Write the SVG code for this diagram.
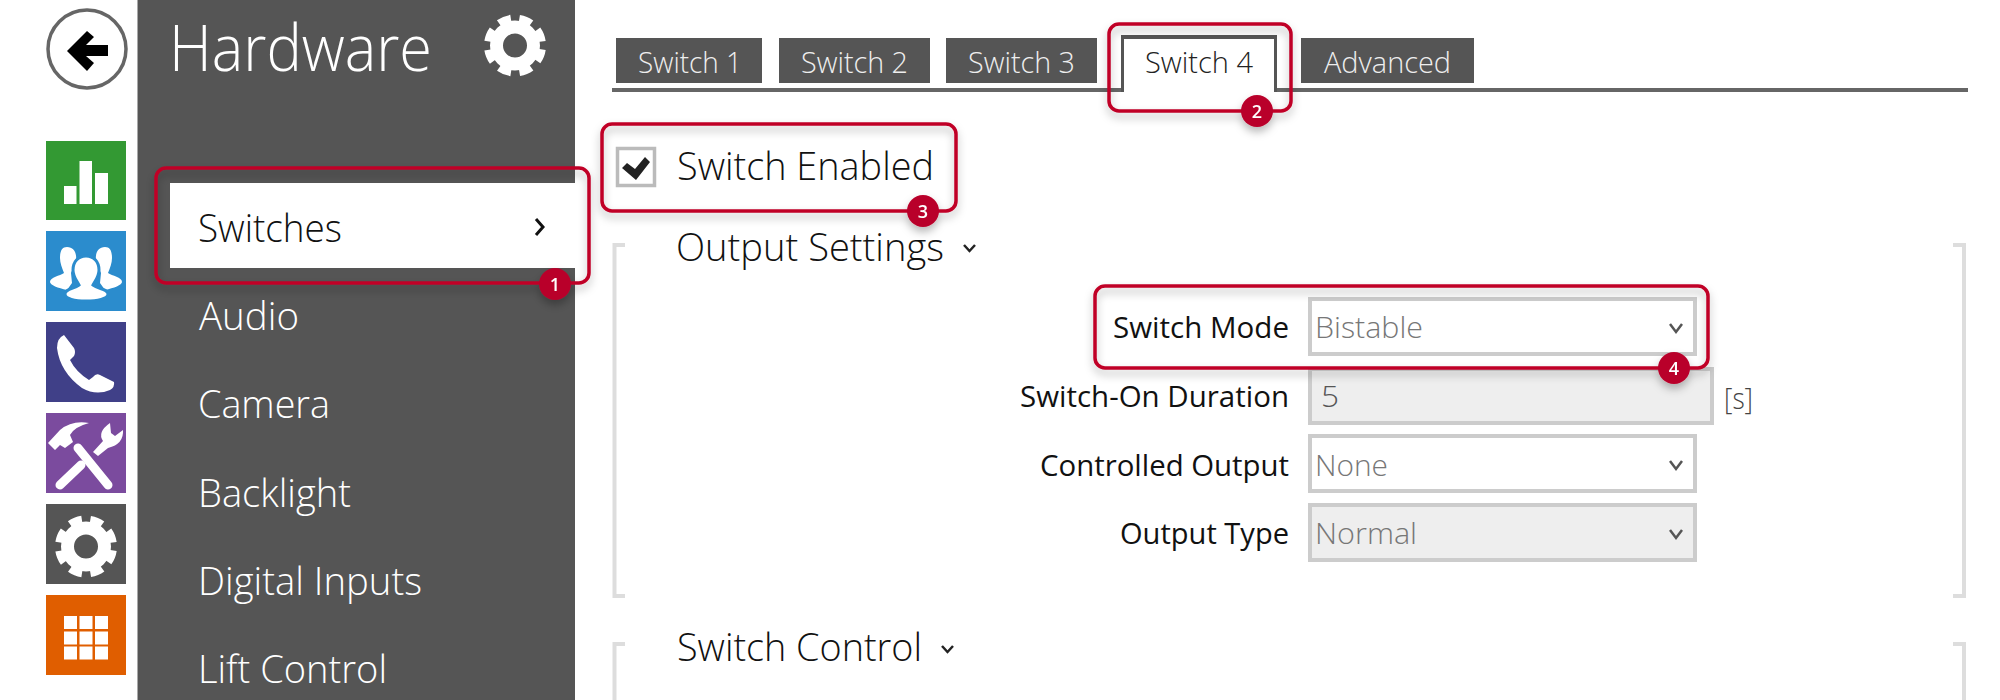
<svg xmlns="http://www.w3.org/2000/svg" xmlns:xlink="http://www.w3.org/1999/xlink" width="2000" height="700" viewBox="0 0 2000 700">
<style>
text{font-family:"Open Sans","Noto Sans","Liberation Sans",sans-serif;font-weight:300}
.menu{font-size:39px;fill:#fff}
.tab{font-size:30px;fill:#eee}
.head{font-size:39px;fill:#111}
.lab{font-size:29px;fill:#111;font-weight:400}
.val{font-size:29px;fill:#777}
.pane{fill:#555}
.tabbox{fill:#555}
.field{fill:#fff;stroke:#ccc;stroke-width:4}
.off{fill:#eee}
.chev{fill:none;stroke:#555;stroke-width:2.5}
.chevd{fill:none;stroke:#222;stroke-width:2.5}
.brk{fill:none;stroke:#ddd;stroke-width:4}
.call{fill:none;stroke:#c00027;stroke-width:3.5}
.badge{fill:#b9002b}
.num{font-size:18px;fill:#fff;font-weight:600;text-anchor:middle}
.ic{fill:#fff}
</style>
<defs>
<filter id="sh" x="-10%" y="-20%" width="120%" height="150%"><feDropShadow dx="0" dy="5" stdDeviation="4" flood-color="#000" flood-opacity="0.28"/></filter>
<g id="gear"><circle r="18.5" fill="none" stroke="#fff" stroke-width="13"/><circle r="27" fill="none" stroke="#fff" stroke-width="8" stroke-dasharray="12.5 8.7" stroke-dashoffset="-4"/></g>
</defs>
<rect width="2000" height="700" fill="#fff"/>
<g id="back"><circle cx="87" cy="49" r="39" fill="#fff" stroke="#666" stroke-width="3.5"/><polygon points="67,51 87,31 94,37 86,45 108,45 108,56 86,56 94,63 87,71" fill="#000"/></g>
<g id="tile-status"><rect x="46" y="141" width="80" height="79" fill="#339933"/><rect class="ic" x="64" y="186" width="12.5" height="18"/><rect class="ic" x="79.5" y="161" width="12.5" height="43"/><rect class="ic" x="95" y="173" width="13" height="31"/></g>
<g id="tile-users"><rect x="46" y="231" width="80" height="80" fill="#2b8ccd"/>
<path class="ic" d="M67 247C74 247 77 253 76 261C75 267 72 270 71 273L72 283L67 290C58 288 50 285 50 282C50 277 60 276 64 273C62 268 60 263 60 258C60 251 62 247 67 247Z"/>
<path class="ic" d="M105 247C98 247 95 253 96 261C97 267 100 270 101 273L100 283L105 290C114 288 122 285 122 282C122 277 112 276 108 273C110 268 112 263 112 258C112 251 110 247 105 247Z"/>
<path class="ic" stroke="#2b8ccd" stroke-width="3" d="M86 256C94 256 99 262 99 270C99 277 95 281 93 285C98 289 108 289 108 294C108 299 97 301 86 301C75 301 65 299 65 294C65 289 74 289 79 285C77 281 73 277 73 270C73 262 78 256 86 256Z"/></g>
<g id="tile-phone"><rect x="46" y="322" width="80" height="80" fill="#404088"/><path class="ic" d="M64 335Q57 338 57 348Q60 372 82 388Q96 396 110 390Q115 387 114 382L100 375Q96 373 93 377L89 380Q76 372 70 360L74 356Q76 352 74 348Z"/></g>
<g id="tile-tools"><rect x="46" y="413" width="80" height="80" fill="#7b4b9e"/>
<path class="ic" d="M48 443L55 450L60 445L65 448L73 442L70 435Q74 427 89 423Q72 420 60 430Z"/>
<path d="M78 448L108 485" stroke="#fff" stroke-width="9" stroke-linecap="round"/><path d="M60 485L81 465" stroke="#fff" stroke-width="9" stroke-linecap="round"/>
<path class="ic" d="M93 452L103 441Q97 432 110 423L111 433L115 436L123 430Q124 444 108 448L98 456Z"/></g>
<g id="tile-settings"><rect x="46" y="504" width="80" height="80" fill="#555"/><use xlink:href="#gear" href="#gear" x="86" y="546.5"/></g>
<g id="tile-apps"><rect x="46" y="595" width="80" height="80" fill="#e05e00"/>
<g class="ic"><rect x="64" y="616" width="13" height="13"/><rect x="79.5" y="616" width="13" height="13"/><rect x="95" y="616" width="13" height="13"/><rect x="64" y="631.5" width="13" height="13"/><rect x="79.5" y="631.5" width="13" height="13"/><rect x="95" y="631.5" width="13" height="13"/><rect x="64" y="646.5" width="13" height="13"/><rect x="79.5" y="646.5" width="13" height="13"/><rect x="95" y="646.5" width="13" height="13"/></g></g>
<g id="menu-pane"><rect class="pane" x="137.5" width="437.5" height="700"/>
<text x="169" y="71" style="font-size:64px;fill:#fff" textLength="263" lengthAdjust="spacingAndGlyphs">Hardware</text>
<use xlink:href="#gear" href="#gear" x="515" y="45.5"/>
<rect x="170" y="183" width="405" height="85" fill="#fff"/>
<text class="menu" x="198" y="242" textLength="144" lengthAdjust="spacingAndGlyphs" style="fill:#111">Switches</text>
<path d="M536 219L543 227L536 235" fill="none" stroke="#111" stroke-width="3"/>
<text class="menu" x="199" y="330" textLength="100" lengthAdjust="spacingAndGlyphs">Audio</text>
<text class="menu" x="198" y="418" textLength="132" lengthAdjust="spacingAndGlyphs">Camera</text>
<text class="menu" x="198" y="507" textLength="153" lengthAdjust="spacingAndGlyphs">Backlight</text>
<text class="menu" x="198" y="595" textLength="224" lengthAdjust="spacingAndGlyphs">Digital Inputs</text>
<text class="menu" x="198" y="683" textLength="189" lengthAdjust="spacingAndGlyphs">Lift Control</text></g>
<g id="tabs">
<rect x="612" y="88" width="1356" height="4" fill="#666"/>
<g id="tab1"><rect class="tabbox" x="616" y="38" width="146" height="45"/><text class="tab" x="638" y="73" textLength="104" lengthAdjust="spacingAndGlyphs">Switch 1</text></g>
<g id="tab2"><rect class="tabbox" x="779" y="38" width="151" height="45"/><text class="tab" x="801" y="73" textLength="107" lengthAdjust="spacingAndGlyphs">Switch 2</text></g>
<g id="tab3"><rect class="tabbox" x="946" y="38" width="151" height="45"/><text class="tab" x="968" y="73" textLength="107" lengthAdjust="spacingAndGlyphs">Switch 3</text></g>
<g id="tab4"><path d="M1122.500 92V37H1275.500V92" fill="#fff" stroke="#555" stroke-width="3"/><rect x="1121" y="35" width="156" height="4" fill="#555"/><rect x="1124" y="86" width="150" height="8" fill="#fff"/><text class="tab" x="1145" y="73" textLength="108" lengthAdjust="spacingAndGlyphs" style="fill:#222">Switch 4</text></g>
<g id="tab5"><rect class="tabbox" x="1301" y="38" width="173" height="45"/><text class="tab" x="1324" y="73" textLength="127" lengthAdjust="spacingAndGlyphs">Advanced</text></g>
</g>
<g id="enable"><rect x="617.500" y="148.500" width="37" height="37" fill="#fff" stroke="#bbb" stroke-width="3.500"/><polygon points="622,168 627,163 635,169 645,157 650,162 636,180" fill="#222"/>
<text class="head" x="677" y="179.500" textLength="257" lengthAdjust="spacingAndGlyphs">Switch Enabled</text></g>
<g id="output-settings"><text class="head" x="676" y="261" textLength="268" lengthAdjust="spacingAndGlyphs">Output Settings</text><path class="chevd" d="M964 245L969.500 251L975 245"/>
<path class="brk" d="M625 245H614.500V596H625M1953 245H1964V596H1953"/>
<text class="lab" x="1289" y="338" text-anchor="end" textLength="176" lengthAdjust="spacingAndGlyphs">Switch Mode</text>
<g id="f-mode"><rect class="field" x="1310" y="299" width="385" height="55"/><text class="val" x="1315" y="338" textLength="108" lengthAdjust="spacingAndGlyphs">Bistable</text><path class="chev" d="M1670 324L1676 332L1682 324"/></g>
<text class="lab" x="1289" y="407" text-anchor="end" textLength="269" lengthAdjust="spacingAndGlyphs">Switch-On Duration</text>
<g id="f-dur"><rect class="field off" x="1310" y="369" width="402" height="54"/><text class="val" x="1321" y="407" style="fill:#555" textLength="18" lengthAdjust="spacingAndGlyphs">5</text><text class="val" x="1724" y="409" style="fill:#444" textLength="29" lengthAdjust="spacingAndGlyphs">[s]</text></g>
<text class="lab" x="1289" y="476" text-anchor="end" textLength="249" lengthAdjust="spacingAndGlyphs">Controlled Output</text>
<g id="f-ctrl"><rect class="field" x="1310" y="436" width="385" height="55"/><text class="val" x="1315" y="476" textLength="73" lengthAdjust="spacingAndGlyphs">None</text><path class="chev" d="M1670 461L1676 469L1682 461"/></g>
<text class="lab" x="1289" y="544" text-anchor="end" textLength="169" lengthAdjust="spacingAndGlyphs">Output Type</text>
<g id="f-type"><rect class="field off" x="1310" y="505" width="385" height="55"/><text class="val" x="1315" y="544" textLength="102" lengthAdjust="spacingAndGlyphs">Normal</text><path class="chev" d="M1670 530L1676 538L1682 530"/></g>
</g>
<g id="switch-control"><text class="head" x="677" y="661" textLength="245" lengthAdjust="spacingAndGlyphs">Switch Control</text><path class="chevd" d="M942 646L947.500 652L953 646"/>
<path class="brk" d="M625 644H614.500V700M1953 644H1964V700"/></g>
<g id="callouts" filter="url(#sh)">
<g id="callout-1"><rect class="call" x="156" y="168" width="433" height="115" rx="10"/><circle class="badge" cx="555" cy="284" r="16"/><text class="num" x="555" y="290.500">1</text></g>
<g id="callout-2"><rect class="call" x="1109" y="24" width="182" height="87" rx="10"/><circle class="badge" cx="1257" cy="111" r="16"/><text class="num" x="1257" y="117.500">2</text></g>
<g id="callout-3"><rect class="call" x="602" y="124" width="354" height="87" rx="10"/><circle class="badge" cx="923" cy="211" r="16"/><text class="num" x="923" y="217.500">3</text></g>
<g id="callout-4"><rect class="call" x="1095" y="286" width="613" height="82" rx="10"/><circle class="badge" cx="1674" cy="368" r="16"/><text class="num" x="1674" y="374.500">4</text></g>
</g>
</svg>
